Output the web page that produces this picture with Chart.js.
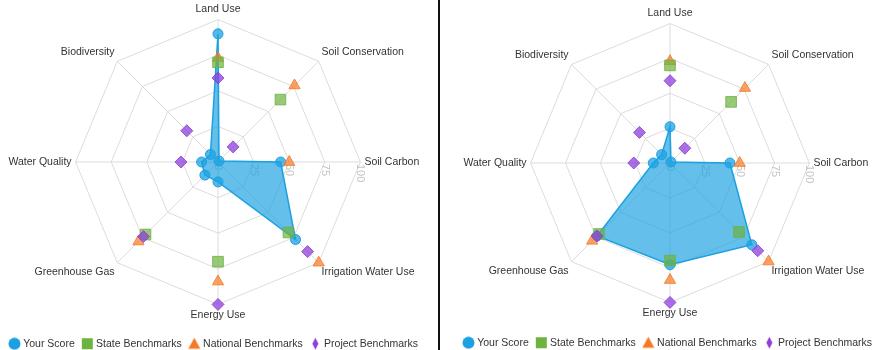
<!DOCTYPE html>
<html>
<head>
<meta charset="utf-8">
<script src="https://cdn.jsdelivr.net/npm/chart.js@4.4.1/dist/chart.umd.min.js"></script>
<style>
body { margin: 0; background: #fff; width: 876px; height: 350px; overflow: hidden; position: relative; }
.panel { position: absolute; top: 1px; width: 437px; }
#left { left: -4px; height: 358px; }
#right { left: 450px; height: 357px; }
#divider { position: absolute; left: 438px; top: 0; width: 2px; height: 350px; background: #111; }
</style>
</head>
<body>
<div class="panel" id="left"><canvas id="chartLeft"></canvas></div>
<div class="panel" id="right"><canvas id="chartRight"></canvas></div>
<div id="divider"></div>
<script>
// axes start at 3 o'clock (startAngle 90) and go clockwise
const categories = ['Soil Carbon', 'Irrigation Water Use', 'Energy Use', 'Greenhouse Gas', 'Water Quality', 'Biodiversity', 'Land Use', 'Soil Conservation'];
const scoreLeft = [44, 77, 14, 13, 11.5, 7.5, 90, 1];
const scoreRight = [43, 83, 73, 74, 12, 8.5, 26, 1];
const stateBench = [null, 70, 70, 72, null, null, 70, 62];
const nationalBench = [50, 100, 84, 79, null, null, 73, 76];
const projectBench = [null, 89, 100, 74, 26, 31, 59, 15];
const seriesNames = ['Your Score', 'State Benchmarks', 'National Benchmarks', 'Project Benchmarks'];

const FONT = '"Liberation Sans", Arial, sans-serif';

// little canvases for the legend symbols
function marker(kind, color) {
    const c = document.createElement('canvas');
    c.width = 13;
    c.height = 13;
    const g = c.getContext('2d');
    g.fillStyle = color;
    g.beginPath();
    if (kind == 'circle') {
        g.arc(6.5, 6.5, 6, 0, Math.PI * 2);
    } else if (kind == 'square') {
        g.rect(1, 1, 11, 11);
    } else if (kind == 'triangle') {
        g.moveTo(6.5, 0.5);
        g.lineTo(12.5, 11.5);
        g.lineTo(0.5, 11.5);
        g.closePath();
    } else {
        g.moveTo(6.5, 0.5);
        g.lineTo(9.5, 6.5);
        g.lineTo(6.5, 12.5);
        g.lineTo(3.5, 6.5);
        g.closePath();
    }
    g.fill();
    return c;
}

const legendMarks = [
    marker('circle', '#1ba1e2'),
    marker('square', '#6db33f'),
    marker('triangle', '#f47a28'),
    marker('diamond', '#8e3fd8')
];

// rotated tick labels under the 3 o'clock axis, drawn below the datasets
const tickText = {
    id: 'tickText',
    beforeDatasetsDraw(chart) {
        const s = chart.scales.r;
        const ctx = chart.ctx;
        ctx.save();
        ctx.translate(s.xCenter, s.yCenter);
        ctx.rotate(Math.PI / 2);
        ctx.font = '11px ' + FONT;
        ctx.fillStyle = '#c4c4c4';
        ctx.textAlign = 'left';
        ctx.textBaseline = 'middle';
        s.ticks.forEach(t => {
            const d = s.getDistanceFromCenterForValue(t.value);
            ctx.fillText(t.label, 2, -d);
        });
        ctx.restore();
    }
};

function makeChart(id, score, padTop, gap) {
    return new Chart(id, {
        type: 'radar',
        data: {
            labels: categories,
            datasets: [
                {
                    label: seriesNames[0],
                    data: score,
                    order: 4,
                    fill: true,
                    borderColor: '#1ba1e2',
                    borderWidth: 1.5,
                    backgroundColor: 'rgba(27,161,226,0.68)',
                    pointStyle: 'circle',
                    pointRadius: 5,
                    pointBackgroundColor: 'rgba(27,161,226,0.75)',
                    pointBorderColor: '#1ba1e2',
                    pointBorderWidth: 1
                },
                {
                    label: seriesNames[1],
                    data: stateBench,
                    order: 2,
                    fill: false,
                    showLine: false,
                    pointStyle: 'rect',
                    pointRadius: 7.5,
                    pointBackgroundColor: 'rgba(109,179,63,0.7)',
                    pointBorderColor: 'rgba(109,179,63,0.85)',
                    pointBorderWidth: 1
                },
                {
                    label: seriesNames[2],
                    data: nationalBench,
                    order: 3,
                    fill: false,
                    showLine: false,
                    pointStyle: 'triangle',
                    pointRadius: 6.5,
                    pointBackgroundColor: 'rgba(247,122,40,0.7)',
                    pointBorderColor: 'rgba(247,122,40,0.85)',
                    pointBorderWidth: 1
                },
                {
                    label: seriesNames[3],
                    data: projectBench,
                    order: 1,
                    fill: false,
                    showLine: false,
                    pointStyle: 'rectRot',
                    pointRadius: 6,
                    pointBackgroundColor: 'rgba(142,63,216,0.75)',
                    pointBorderColor: 'rgba(142,63,216,0.85)',
                    pointBorderWidth: 1
                }
            ]
        },
        options: {
            responsive: true,
            maintainAspectRatio: false,
            animation: false,
            layout: { padding: { top: padTop, bottom: 0 } },
            scales: {
                r: {
                    min: 0,
                    max: 100,
                    startAngle: 90,
                    ticks: { stepSize: 25, display: false },
                    grid: { color: '#dcdcdc', lineWidth: 1 },
                    angleLines: { color: '#dcdcdc', lineWidth: 1 },
                    pointLabels: {
                        font: { size: 10.5, family: FONT },
                        color: '#333',
                        padding: 4
                    }
                }
            },
            plugins: {
                tooltip: { enabled: false },
                legend: {
                    position: 'bottom',
                    // empty title only adds a gap above the legend row
                    title: { display: true, text: '', font: { size: 1, lineHeight: 1 }, padding: { top: gap, bottom: 0 } },
                    labels: {
                        usePointStyle: true,
                        boxWidth: 7,
                        boxHeight: 7,
                        padding: 9,
                        color: '#333',
                        font: { size: 10.5, family: FONT },
                        generateLabels: chart => chart.data.datasets.map((ds, i) => ({
                            text: ds.label,
                            pointStyle: legendMarks[i],
                            fillStyle: 'transparent',
                            strokeStyle: 'transparent',
                            lineWidth: 0,
                            hidden: false,
                            datasetIndex: i,
                            fontColor: '#333'
                        }))
                    }
                }
            }
        },
        plugins: [tickText]
    });
}

makeChart('chartLeft', scoreLeft, 2, 5.75);
makeChart('chartRight', scoreRight, 6, 6.75);
</script>
</body>
</html>
